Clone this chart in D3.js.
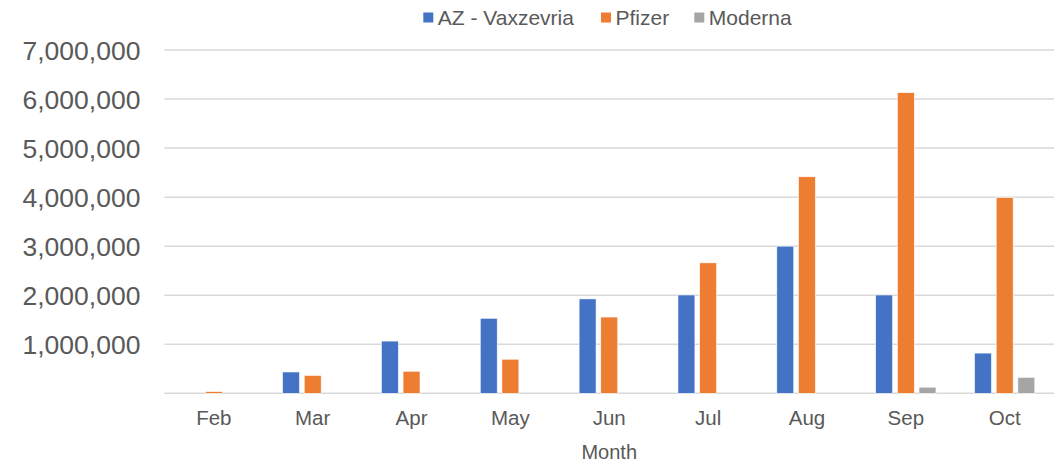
<!DOCTYPE html>
<html>
<head>
<meta charset="utf-8">
<script src="https://cdn.jsdelivr.net/npm/d3@7"></script>
<style>
  html, body { margin: 0; padding: 0; background: #fff; }
  svg { display: block; font-family: "Liberation Sans", Arial, sans-serif; }
</style>
</head>
<body>
<svg id="chart" width="1061" height="464"></svg>
<script>
const months = ["Feb", "Mar", "Apr", "May", "Jun", "Jul", "Aug", "Sep", "Oct"];
const seriesNames = ["AZ - Vaxzevria", "Pfizer", "Moderna"];
const azValues = [0, 435000, 1065000, 1530000, 1925000, 2005000, 3000000, 2005000, 820000];
const pfizerValues = [35000, 365000, 450000, 695000, 1555000, 2660000, 4415000, 6130000, 3990000];
const modernaValues = [0, 0, 0, 0, 0, 0, 0, 125000, 325000];
const yTicks = [0, 1000000, 2000000, 3000000, 4000000, 5000000, 6000000, 7000000];
const colors = ["#4472C4", "#ED7D31", "#A5A5A5"];

(function () {
const seriesValues = [azValues, pfizerValues, modernaValues];
const data = months.map((m, i) => ({
  month: m,
  values: seriesNames.map((s, j) => ({ series: s, value: seriesValues[j][i], idx: j }))
}));

const svg = d3.select("#chart");
const plotLeft = 164.4, plotRight = 1054.1, plotTop = 50, plotBottom = 393.3;
const textColor = "#595959";
const gridColor = "#D9D9D9";

const y = d3.scaleLinear().domain([0, 7000000]).range([plotBottom, plotTop]);
const x0 = d3.scaleBand().domain(months).range([plotLeft, plotRight]).paddingInner(0.39).paddingOuter(0.195);
const x1 = d3.scaleBand().domain(seriesNames).range([0, x0.bandwidth()]).paddingInner(0.217);

// gridlines
svg.append("g").selectAll("line").data(yTicks).join("line")
  .attr("x1", plotLeft).attr("x2", plotRight)
  .attr("y1", d => y(d)).attr("y2", d => y(d))
  .attr("stroke", gridColor).attr("stroke-width", 1.5);

// y axis labels
const fmt = d3.format(",");
const yAxis = d3.axisLeft(y).tickValues(yTicks.filter(d => d > 0)).tickFormat(fmt).tickSize(0).tickPadding(24);
const yg = svg.append("g").attr("transform", `translate(${plotLeft},0)`).call(yAxis);
yg.select(".domain").remove();
yg.selectAll("text").attr("fill", textColor).style("font-size", "26.5px")
  .style("font-family", "'Liberation Sans', Arial, sans-serif").attr("dy", "0.36em");

// bars
const groups = svg.append("g").selectAll("g").data(data).join("g")
  .attr("transform", d => `translate(${x0(d.month)},0)`);
groups.selectAll("rect").data(d => d.values.filter(v => v.value > 0)).join("rect")
  .attr("x", d => x1(d.series))
  .attr("width", x1.bandwidth())
  .attr("y", d => y(d.value))
  .attr("height", d => y(0) - y(d.value))
  .attr("fill", d => colors[d.idx])
  .attr("stroke", "#fff").attr("stroke-width", 0.6);

// x axis labels
const xAxis = d3.axisBottom(x0).tickSize(0).tickPadding(17);
const xg = svg.append("g").attr("transform", `translate(0,${plotBottom})`).call(xAxis);
xg.select(".domain").remove();
xg.selectAll("text").attr("fill", textColor).style("font-size", "20.5px")
  .style("font-family", "'Liberation Sans', Arial, sans-serif");

// axis title
svg.append("text").attr("x", (plotLeft + plotRight) / 2).attr("y", 458.5)
  .attr("text-anchor", "middle").attr("fill", textColor).style("font-size", "20px")
  .text("Month");

// legend
const legendX = [423.3, 601, 694.3];
const lg = svg.append("g").selectAll("g").data(seriesNames).join("g")
  .attr("transform", (d, i) => `translate(${legendX[i]},0)`);
lg.append("rect").attr("x", 0).attr("y", 12.5).attr("width", 10).attr("height", 10)
  .attr("fill", (d, i) => colors[i]);
lg.append("text").attr("x", 14.5).attr("y", 25).attr("fill", textColor)
  .style("font-size", "21px").text(d => d);
})();
</script>
</body>
</html>
